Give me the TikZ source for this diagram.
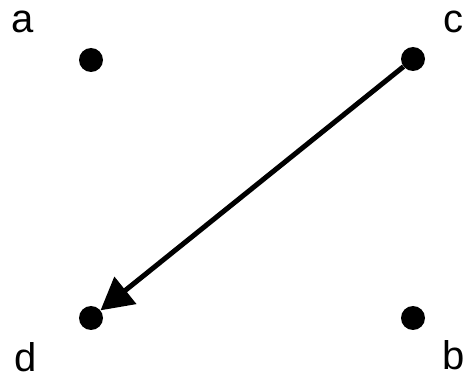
\documentclass[tikz,border=0pt]{standalone}
\usepackage{fontspec}
\setmainfont{Liberation Sans}
\usetikzlibrary{arrows.meta}
\begin{document}
\begin{tikzpicture}[x=1pt,y=-1pt,
  dot/.style={circle,fill=black,minimum size=24pt,inner sep=0pt},
  lbl/.style={anchor=base,inner sep=0pt,font=\fontsize{40}{48}\selectfont}]
\useasboundingbox (0,0) rectangle (464,377);
\node[dot] (a) at (91,60) {};
\node[dot] (c) at (413,59) {};
\node[dot] (d) at (91,318) {};
\node[dot] (b) at (413,318) {};
\node[lbl] (la) at (22.5,33) {a};
\node[lbl] (lc) at (453,33) {c};
\node[lbl] (ld) at (26,371) {d};
\node[lbl] (lb) at (454,370) {b};
\draw[line width=5pt,-{Triangle[length=32pt,width=34pt]}] (c) -- (d);
\end{tikzpicture}
\end{document}
